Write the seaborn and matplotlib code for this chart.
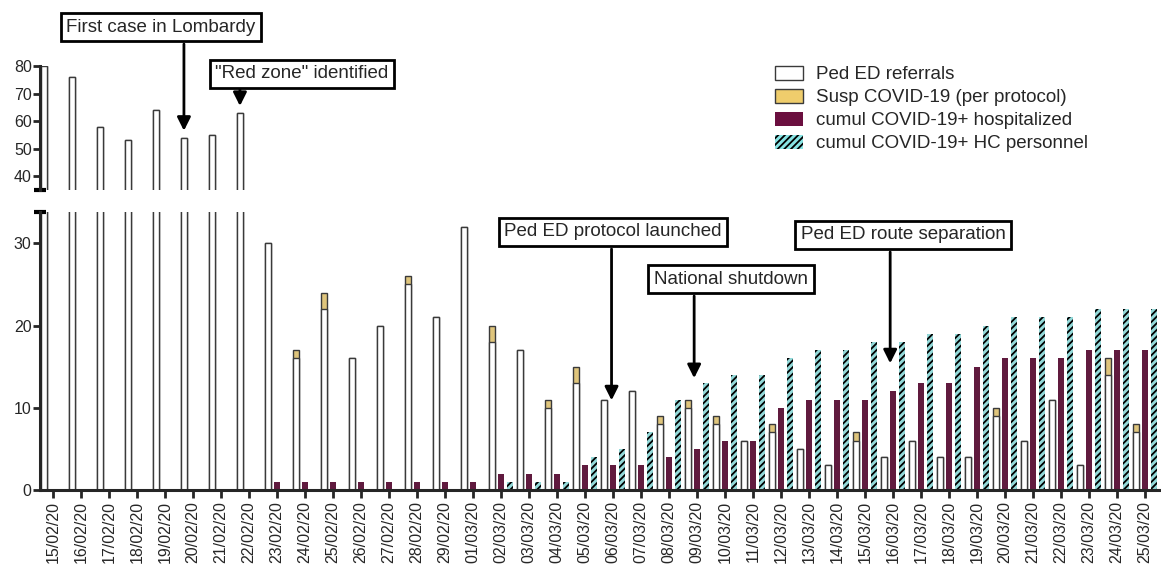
import pandas as pd
import numpy as np
import seaborn as sns
import matplotlib.pyplot as plt
from matplotlib.patches import Patch

# Data
dates = ["15/02/20", "16/02/20", "17/02/20", "18/02/20", "19/02/20", "20/02/20",
         "21/02/20", "22/02/20", "23/02/20", "24/02/20", "25/02/20", "26/02/20",
         "27/02/20", "28/02/20", "29/02/20", "01/03/20", "02/03/20", "03/03/20",
         "04/03/20", "05/03/20", "06/03/20", "07/03/20", "08/03/20", "09/03/20",
         "10/03/20", "11/03/20", "12/03/20", "13/03/20", "14/03/20", "15/03/20",
         "16/03/20", "17/03/20", "18/03/20", "19/03/20", "20/03/20", "21/03/20",
         "22/03/20", "23/03/20", "24/03/20", "25/03/20"]
referrals = [80, 76, 58, 53, 64, 54, 55, 63, 30, 16, 22, 16, 20, 25, 21, 32, 18, 17,
             10, 13, 11, 12, 8, 10, 8, 6, 7, 5, 3, 6, 4, 6, 4, 4, 9, 6, 11, 3, 14, 7]
suspected = [0, 0, 0, 0, 0, 0, 0, 0, 0, 1, 2, 0, 0, 1, 0, 0, 2, 0,
             1, 2, 0, 0, 1, 1, 1, 0, 1, 0, 0, 1, 0, 0, 0, 0, 1, 0, 0, 0, 2, 1]
hospitalized = [0, 0, 0, 0, 0, 0, 0, 0, 1, 1, 1, 1, 1, 1, 1, 1, 2, 2,
                2, 3, 3, 3, 4, 5, 6, 6, 10, 11, 11, 11, 12, 13, 13, 15, 16, 16, 16, 17, 17, 17]
hc_personnel = [0, 0, 0, 0, 0, 0, 0, 0, 0, 0, 0, 0, 0, 0, 0, 0, 1, 1,
                1, 4, 5, 7, 11, 13, 14, 14, 16, 17, 17, 18, 18, 19, 19, 20, 21, 21, 21, 22, 22, 22]

labels = ["Ped ED referrals", "Susp COVID-19 (per protocol)",
          "cumul COVID-19+ hospitalized", "cumul COVID-19+ HC personnel"]

events = [("First case in Lombardy", "20/02/20"), ('"Red zone" identified', "22/02/20"),
          ("Ped ED protocol launched", "06/03/20"), ("National shutdown", "09/03/20"),
          ("Ped ED route separation", "16/03/20")]

WHITE, YELLOW, PURPLE, CYAN = "white", "#efcd6c", "#6b0f3f", "#88e4e4"
EDGE = "#3a3a3a"
HATCH = "/////"

groups = ["ref", "hosp", "hc"]
df = pd.DataFrame({
    "date": dates * 4,
    "group": ["ref"] * 40 + ["ref"] * 40 + ["hosp"] * 40 + ["hc"] * 40,
    "part": ["total"] * 40 + ["white"] * 40 + ["hosp"] * 40 + ["hc"] * 40,
    "value": list(np.add(referrals, suspected)) + referrals + hospitalized + hc_personnel,
})

sns.set_style("ticks")
plt.rcParams["font.family"] = ["Liberation Sans", "DejaVu Sans"]
plt.rcParams["hatch.linewidth"] = 1.3

W, H = 1161, 570
fig = plt.figure(figsize=(W / 100, H / 100), dpi=100)
ax_lo = fig.add_axes([40 / W, 80 / H, 1119 / W, 278 / H])
ax_up = fig.add_axes([40 / W, 380 / H, 1119 / W, 124 / H], sharex=ax_lo)

pal = {"ref": WHITE, "hosp": PURPLE, "hc": CYAN}
styles = {
    "total": dict(palette={"ref": YELLOW, "hosp": PURPLE, "hc": CYAN}, edgecolor=EDGE, linewidth=1.0),
    "white": dict(palette=pal, edgecolor=EDGE, linewidth=1.0),
    "hosp": dict(palette=pal, linewidth=0),
    "hc": dict(palette=pal, edgecolor="black", linewidth=0, hatch=HATCH),
}

for ax in (ax_lo, ax_up):
    for part, kw in styles.items():
        sns.barplot(data=df[df["part"] == part], x="date", y="value", hue="group",
                    order=dates, hue_order=groups, dodge=True, width=0.96, gap=0.33,
                    errorbar=None, legend=False, ax=ax, **kw)
    ax.set_xlabel("")
    ax.set_ylabel("")
    ax.set_xlim(-0.46, 39.5)

ax_lo.set_ylim(0, 33.8)
ax_lo.set_yticks([0, 10, 20, 30])
ax_up.set_ylim(35, 80)
ax_up.set_yticks([40, 50, 60, 70, 80])

for ax in (ax_lo, ax_up):
    ax.spines["top"].set_visible(False)
    ax.spines["right"].set_visible(False)
    ax.spines["left"].set_linewidth(2.2)
    ax.tick_params(axis="y", length=5, width=2, labelsize=11.5, pad=1)
ax_up.spines["bottom"].set_visible(False)
ax_up.tick_params(axis="x", bottom=False, labelbottom=False)
ax_lo.spines["bottom"].set_linewidth(2.2)
ax_lo.tick_params(axis="x", length=6, width=2, labelsize=11.5, pad=2, labelrotation=90)

# break caps on the split y axis
ax_up.plot([0], [0], marker="_", ms=8, mew=3, color="black", transform=ax_up.transAxes, clip_on=False)
ax_lo.plot([0], [1], marker="_", ms=8, mew=3, color="black", transform=ax_lo.transAxes, clip_on=False)

# event annotations: box centre (px), arrow x offset, arrow tip value, box bottom (px)
boxes = [(161, 27, -0.32, 56.5, 44, ax_up), (302, 74, -0.32, 65.5, 88, ax_up),
         (613, 232, -0.05, 10.9, 249, ax_lo), (731, 279, -0.1, 13.6, 296, ax_lo),
         (903, 235, -0.1, 15.4, 252, ax_lo)]
for (text, day), (bx, by, dx, tip, bot, ax) in zip(events, boxes):
    fig.text(bx / W, 1 - by / H, text, ha="center", va="center", fontsize=13.5,
             bbox=dict(boxstyle="square,pad=0.3", fc="white", ec="black", lw=2), zorder=5)
    xi = dates.index(day) + dx
    ax.annotate("", xy=(xi, tip), xycoords="data", xytext=(xi, H - bot),
                textcoords=("data", "figure pixels"),
                arrowprops=dict(arrowstyle="-|>", color="black", lw=2, mutation_scale=20,
                                shrinkA=0, shrinkB=0), annotation_clip=False)

handles = [Patch(fc=WHITE, ec=EDGE, lw=1), Patch(fc=YELLOW, ec=EDGE, lw=1),
           Patch(fc=PURPLE, lw=0), Patch(fc=CYAN, ec="black", lw=0, hatch=HATCH)]
fig.legend(handles, labels, loc="upper left", bbox_to_anchor=(775 / W, 1 - 66 / H),
           frameon=False, fontsize=13.5, handlelength=1.5, handleheight=0.75,
           handletextpad=0.7, labelspacing=0.3, borderpad=0, borderaxespad=0)

fig.savefig("out.png", dpi=100)
